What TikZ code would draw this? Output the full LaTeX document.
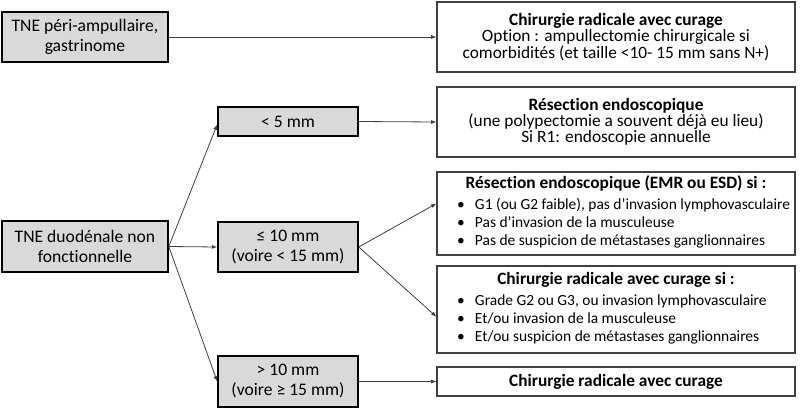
\documentclass[tikz,border=0pt]{standalone}
\usepackage{fontspec}
\setmainfont{Carlito}[Ligatures=NoCommon]
\usetikzlibrary{arrows.meta}
\tikzstyle{edge}=[draw=black!75, line width=0.6pt, -{Latex[length=4pt,width=3pt]}]
\newcommand{\puce}{\makebox[13.5pt][l]{•}}
\newcommand{\listepuces}[1]{\makebox[238.5pt][l]{\fontsize{11.6}{13.6}\selectfont
  \begin{tabular}{@{}l@{}}#1\end{tabular}}}

\begin{document}
\begin{tikzpicture}[x=0.75pt,y=-0.75pt,
    cas/.style={rectangle,draw=black,fill=black!15,line width=1.2pt,align=center,
      inner sep=0pt,font=\fontsize{13.2}{15}\selectfont},
    conduite/.style={rectangle,draw=black!75,line width=0.8pt,align=center,
      inner sep=0pt,minimum width=268.5pt,font=\fontsize{13}{12.2}\selectfont}]
  \useasboundingbox (0,0) rectangle (800,414);
  % situations
  \node [cas,minimum width=124.5pt,minimum height=37.5pt]  (peri)  at (85,37)    {TNE péri-ampullaire,\\gastrinome};
  \node [cas,minimum width=124.5pt,minimum height=38.25pt] (duod)  at (85,246.5) {TNE duodénale non\\fonctionnelle};
  % tailles
  \node [cas,minimum width=105pt,minimum height=21.75pt]   (lt5)   at (288,121.5) {< 5 mm};
  \node [cas,minimum width=105pt,minimum height=37.5pt]    (le10)  at (288,247)   {≤ 10 mm\\(voire < 15 mm)};
  \node [cas,minimum width=105pt,minimum height=38.25pt]   (gt10)  at (288,381.5) {> 10 mm\\(voire ≥ 15 mm)};
  % conduites
  \node [conduite,minimum height=52.5pt] (chir1) at (616,37)
    {\textbf{Chirurgie radicale avec curage}\\Option : ampullectomie chirurgicale si\\comorbidités (et taille <10- 15 mm sans N+)};
  \node [conduite,minimum height=52.5pt] (resec) at (616,122)
    {\textbf{Résection endoscopique}\\(une polypectomie a souvent déjà eu lieu)\\Si R1: endoscopie annuelle};
  \node [conduite,minimum height=62.25pt] (emr) at (616,213.5)
    {\textbf{Résection endoscopique (EMR ou ESD) si :}\\[3pt]
     \listepuces{\puce G1 (ou G2 faible), pas d’invasion lymphovasculaire\\
      \puce Pas d’invasion de la musculeuse\\
      \puce Pas de suspicion de métastases ganglionnaires}};
  \node [conduite,minimum height=65.25pt] (chirsi) at (616,309.5)
    {\textbf{Chirurgie radicale avec curage si :}\\[3pt]
     \listepuces{\puce Grade G2 ou G3, ou invasion lymphovasculaire\\
      \puce Et/ou invasion de la musculeuse\\
      \puce Et/ou suspicion de métastases ganglionnaires}};
  \node [conduite,minimum height=21.75pt] (chir2) at (616,381.5)
    {\textbf{Chirurgie radicale avec curage}};
  % fleches
  \path [edge] (peri.east) -- (chir1.west);
  \path [edge] (duod.east) -- ([yshift=-2.25pt]lt5.west);
  \path [edge] (duod.east) -- (le10.west);
  \path [edge] (duod.east) -- (gt10.west);
  \path [edge] (lt5.east) -- (resec.west);
  \path [edge] (le10.east) -- ([yshift=7.5pt]emr.west);
  \path [edge] (le10.east) -- ([yshift=-5.5pt]chirsi.west);
  \path [edge] (gt10.east) -- (chir2.west);
\end{tikzpicture}
\end{document}
